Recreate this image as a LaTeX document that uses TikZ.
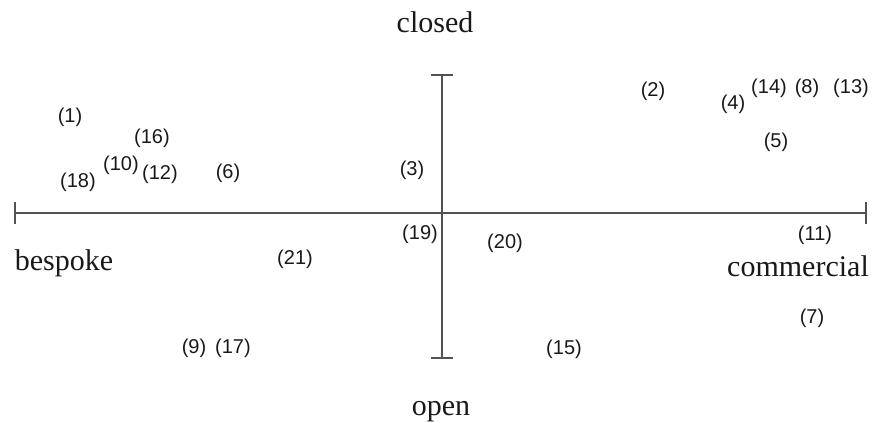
\documentclass[tikz,border=0pt]{standalone}
\usepackage{fontspec}
\setmainfont{Liberation Serif}
\setsansfont{Liberation Sans}
\usetikzlibrary{arrows.meta}

\begin{document}
\begin{tikzpicture}[
  x=1pt, y=-1pt,
  axis/.style={draw=black!68, line width=2.4pt, {Bar[width=22pt]}-{Bar[width=22pt]}},
  pole/.style={font=\fontsize{30}{30}\selectfont, text=black!90, inner sep=0pt, anchor=base},
  item/.style={font=\sffamily\fontsize{20}{20}\selectfont, text=black!90, inner sep=0pt},
]
  \useasboundingbox (0,0) rectangle (873,423);
  %% axis end points
  \coordinate (west)  at (14,213);
  \coordinate (east)  at (867,213);
  \coordinate (north) at (442,74);
  \coordinate (south) at (442,359);
  \draw[axis] (west) -- (east);
  \draw[axis] (north) -- (south);
  %% pole labels (placed by baseline)
  \node[pole] (closed)     at (435,32)  {closed};
  \node[pole] (open)       at (441,415) {open};
  \node[pole] (bespoke)    at (64,270)  {bespoke};
  \node[pole] (commercial) at (798,276) {commercial};
  %% numbered items
  \foreach \n/\x/\y in {1/70/117, 2/653/91, 3/412/170, 4/733/104, 5/776/142,
                        6/228/173, 7/812/318, 8/807/88, 9/194/348, 10/121/165,
                        11/815/235, 12/160/174, 13/851/88, 14/769/88, 15/564/349,
                        16/152/138, 17/233/348, 18/78/182, 19/420/234, 20/505/243,
                        21/295/259}
    \node[item] (p\n) at (\x,\y) {(\n)};
\end{tikzpicture}
\end{document}
